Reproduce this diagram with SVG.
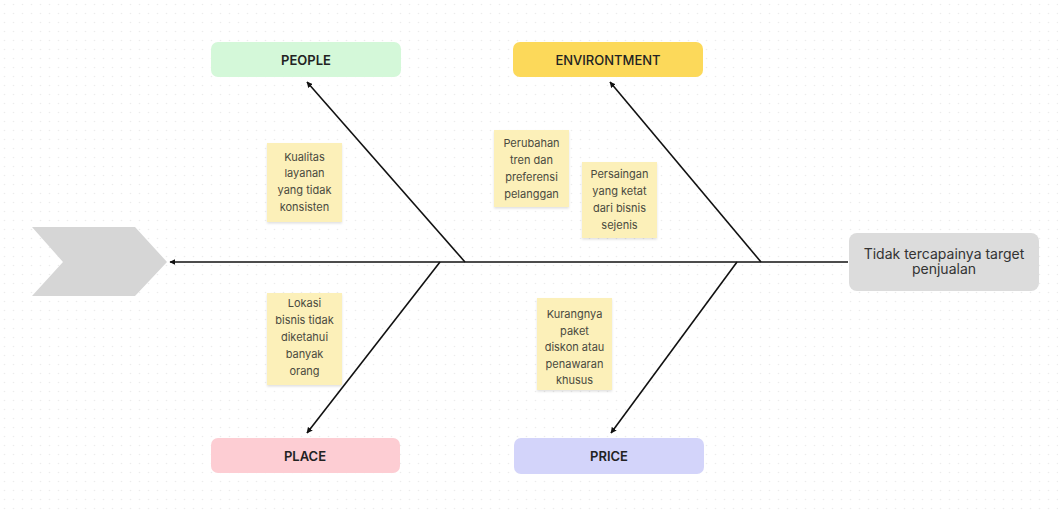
<svg xmlns="http://www.w3.org/2000/svg" width="1058" height="512" viewBox="0 0 1058 512">
<defs>
<pattern id="dots" width="9" height="9" patternUnits="userSpaceOnUse"><circle cx="4.5" cy="4.5" r="0.8" fill="#ececec"/></pattern>
<marker id="arr" viewBox="0 0 10 10" refX="9" refY="5" markerWidth="6" markerHeight="6" orient="auto-start-reverse" markerUnits="userSpaceOnUse"><path d="M0,0 L10,5 L0,10 z" fill="#111"/></marker>
<filter id="sh" x="-10%" y="-10%" width="120%" height="130%"><feDropShadow dx="0" dy="1.5" stdDeviation="1.2" flood-color="#000" flood-opacity="0.12"/></filter>
</defs>
<style>
.cat{font-family:Inter,"Noto Sans",sans-serif;font-size:13px;font-weight:600;fill:#222;text-anchor:middle}
.env{font-weight:500}
.note rect{fill:#fcf0b9;filter:url(#sh)}
.note text{font-family:Inter,"Noto Sans",sans-serif;font-size:11px;fill:#4a4a40;text-anchor:middle}
.con line{stroke:#111;stroke-width:1.6}
.eff{font-family:Inter,"Noto Sans",sans-serif;font-size:14px;fill:#333;text-anchor:middle}
</style>
<rect width="1058" height="512" fill="#fff"/>
<rect width="1058" height="512" fill="url(#dots)"/>

<g id="head"><polygon points="32,227 135,227 167,262 135,296 32,296 63,262" fill="#d6d6d6"/></g>

<g id="connectors" class="con">
<line x1="848" y1="262" x2="170" y2="262" marker-end="url(#arr)"/>
<line x1="465" y1="262" x2="307" y2="82" marker-end="url(#arr)"/>
<line x1="761" y1="262" x2="610" y2="82" marker-end="url(#arr)"/>
<line x1="440" y1="262" x2="307" y2="433" marker-end="url(#arr)"/>
<line x1="737" y1="262" x2="611" y2="433" marker-end="url(#arr)"/>
</g>

<g id="people"><rect x="211" y="42" width="190" height="35" rx="7" fill="#d4f8d9"/><text class="cat" x="306" y="64.5">PEOPLE</text></g>
<g id="environment"><rect x="513" y="42" width="190" height="35" rx="7" fill="#fcd95a"/><text class="cat env" x="608" y="64.5">ENVIRONTMENT</text></g>
<g id="place"><rect x="211" y="438" width="189" height="35" rx="7" fill="#fdcdd3"/><text class="cat" x="305" y="460.5">PLACE</text></g>
<g id="price"><rect x="514" y="438" width="190" height="36" rx="7" fill="#d3d4fa"/><text class="cat" x="609" y="460.5">PRICE</text></g>

<g id="effect"><rect x="849" y="233" width="190" height="58" rx="8" fill="#dcdcdc"/><text class="eff" x="944" y="259">Tidak tercapainya target</text><text class="eff" x="944" y="274">penjualan</text></g>

<g id="note1" class="note"><rect x="267" y="143" width="75" height="79"/><text x="304.5" y="161">Kualitas</text><text x="304.5" y="177">layanan</text><text x="304.5" y="194">yang tidak</text><text x="304.5" y="211">konsisten</text></g>
<g id="note2" class="note"><rect x="494" y="130" width="75" height="77"/><text x="531.5" y="147">Perubahan</text><text x="531.5" y="164">tren dan</text><text x="531.5" y="181">preferensi</text><text x="531.5" y="198">pelanggan</text></g>
<g id="note3" class="note"><rect x="582" y="162" width="75" height="76"/><text x="619.5" y="178">Persaingan</text><text x="619.5" y="195">yang ketat</text><text x="619.5" y="212">dari bisnis</text><text x="619.5" y="229">sejenis</text></g>
<g id="note4" class="note"><rect x="267" y="293" width="75" height="92"/><text x="304.5" y="307">Lokasi</text><text x="304.5" y="324">bisnis tidak</text><text x="304.5" y="341">diketahui</text><text x="304.5" y="358">banyak</text><text x="304.5" y="375">orang</text></g>
<g id="note5" class="note"><rect x="537" y="298" width="75" height="92"/><text x="574.5" y="318">Kurangnya</text><text x="574.5" y="335">paket</text><text x="574.5" y="351">diskon atau</text><text x="574.5" y="368">penawaran</text><text x="574.5" y="384">khusus</text></g>
</svg>
